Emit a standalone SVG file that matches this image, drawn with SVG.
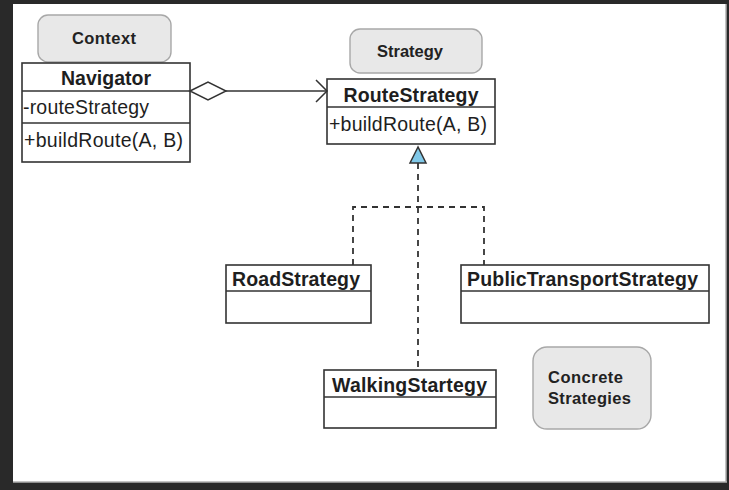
<svg xmlns="http://www.w3.org/2000/svg" width="729" height="490" viewBox="0 0 729 490">
  <style>
    .cls { fill: #ffffff; stroke: #333333; stroke-width: 1.6; }
    .sep { stroke: #333333; stroke-width: 1.6; }
    .tag { fill: #e8e8e8; stroke: #a8a8a8; stroke-width: 1.4; }
    .name { font-family: "Liberation Sans", Arial, sans-serif; font-weight: bold; font-size: 19.5px; fill: #1e1e1e; }
    .member { font-family: "Liberation Sans", Arial, sans-serif; font-size: 19.5px; fill: #1e1e1e; }
    .label { font-family: "Liberation Sans", Arial, sans-serif; font-weight: bold; font-size: 16.5px; fill: #222222; }
    .link { fill: none; stroke: #333333; stroke-width: 1.5; }
    .dash { fill: none; stroke: #333333; stroke-width: 1.8; stroke-dasharray: 6 5; }
  </style>

  <!-- frame -->
  <rect x="0" y="0" width="729" height="490" fill="#292929"/>
  <rect x="13" y="4" width="713" height="478" fill="#ffffff"/>
  <line x1="726" y1="4" x2="726" y2="482" stroke="#b0b0b0" stroke-width="1.5"/>
  <line x1="13" y1="482" x2="727" y2="482" stroke="#b0b0b0" stroke-width="1.5"/>

  <!-- role labels -->
  <g id="context-label">
    <rect class="tag" x="38" y="15" width="133" height="47" rx="10"/>
    <text class="label" x="104" y="44" text-anchor="middle" textLength="64">Context</text>
  </g>
  <g id="strategy-label">
    <rect class="tag" x="350" y="29" width="132" height="44" rx="10"/>
    <text class="label" x="410" y="57" text-anchor="middle" textLength="66">Strategy</text>
  </g>
  <g id="concrete-label">
    <rect class="tag" x="533" y="347" width="118" height="82" rx="14"/>
    <text class="label" x="548" y="383" textLength="75">Concrete</text>
    <text class="label" x="548" y="404" textLength="83">Strategies</text>
  </g>

  <!-- classes -->
  <g id="navigator">
    <rect class="cls" x="22" y="63" width="168" height="99"/>
    <line class="sep" x1="22" y1="91" x2="190" y2="91"/>
    <line class="sep" x1="22" y1="123" x2="190" y2="123"/>
    <text class="name" x="106" y="85" text-anchor="middle" textLength="90">Navigator</text>
    <text class="member" x="23" y="114" textLength="126">-routeStrategy</text>
    <text class="member" x="24" y="147" textLength="159">+buildRoute(A, B)</text>
  </g>

  <g id="route-strategy">
    <rect class="cls" x="327" y="79" width="168" height="65"/>
    <line class="sep" x1="327" y1="107" x2="495" y2="107"/>
    <text class="name" x="411" y="102" text-anchor="middle" textLength="135">RouteStrategy</text>
    <text class="member" x="329" y="131" textLength="158">+buildRoute(A, B)</text>
  </g>

  <g id="road-strategy">
    <rect class="cls" x="226" y="265" width="145" height="58"/>
    <line class="sep" x1="226" y1="291" x2="371" y2="291"/>
    <text class="name" x="232" y="286" textLength="128">RoadStrategy</text>
  </g>

  <g id="public-transport-strategy">
    <rect class="cls" x="461" y="265" width="248" height="58"/>
    <line class="sep" x1="461" y1="291" x2="709" y2="291"/>
    <text class="name" x="467" y="286" textLength="231">PublicTransportStrategy</text>
  </g>

  <g id="walking-strategy">
    <rect class="cls" x="324" y="370" width="172" height="58"/>
    <line class="sep" x1="324" y1="397" x2="496" y2="397"/>
    <text class="name" x="332" y="392" textLength="155">WalkingStartegy</text>
  </g>

  <!-- connectors -->
  <g id="connectors">
    <!-- aggregation: Navigator holds a RouteStrategy -->
    <line class="link" x1="226" y1="91" x2="327" y2="91"/>
    <polygon points="190,91 208,82 226,91 208,100" fill="#ffffff" stroke="#333333" stroke-width="1.5"/>
    <polyline class="link" points="316,80 327,91 316,102"/>

    <!-- realization: concrete strategies implement RouteStrategy -->
    <line class="dash" x1="418" y1="163" x2="418" y2="370"/>
    <polyline class="dash" points="353,265 353,207 484,207 484,265"/>
    <polygon points="418,147 410,163 426,163" fill="#80c8e8" stroke="#333333" stroke-width="1.5" stroke-linejoin="miter"/>
  </g>
</svg>
